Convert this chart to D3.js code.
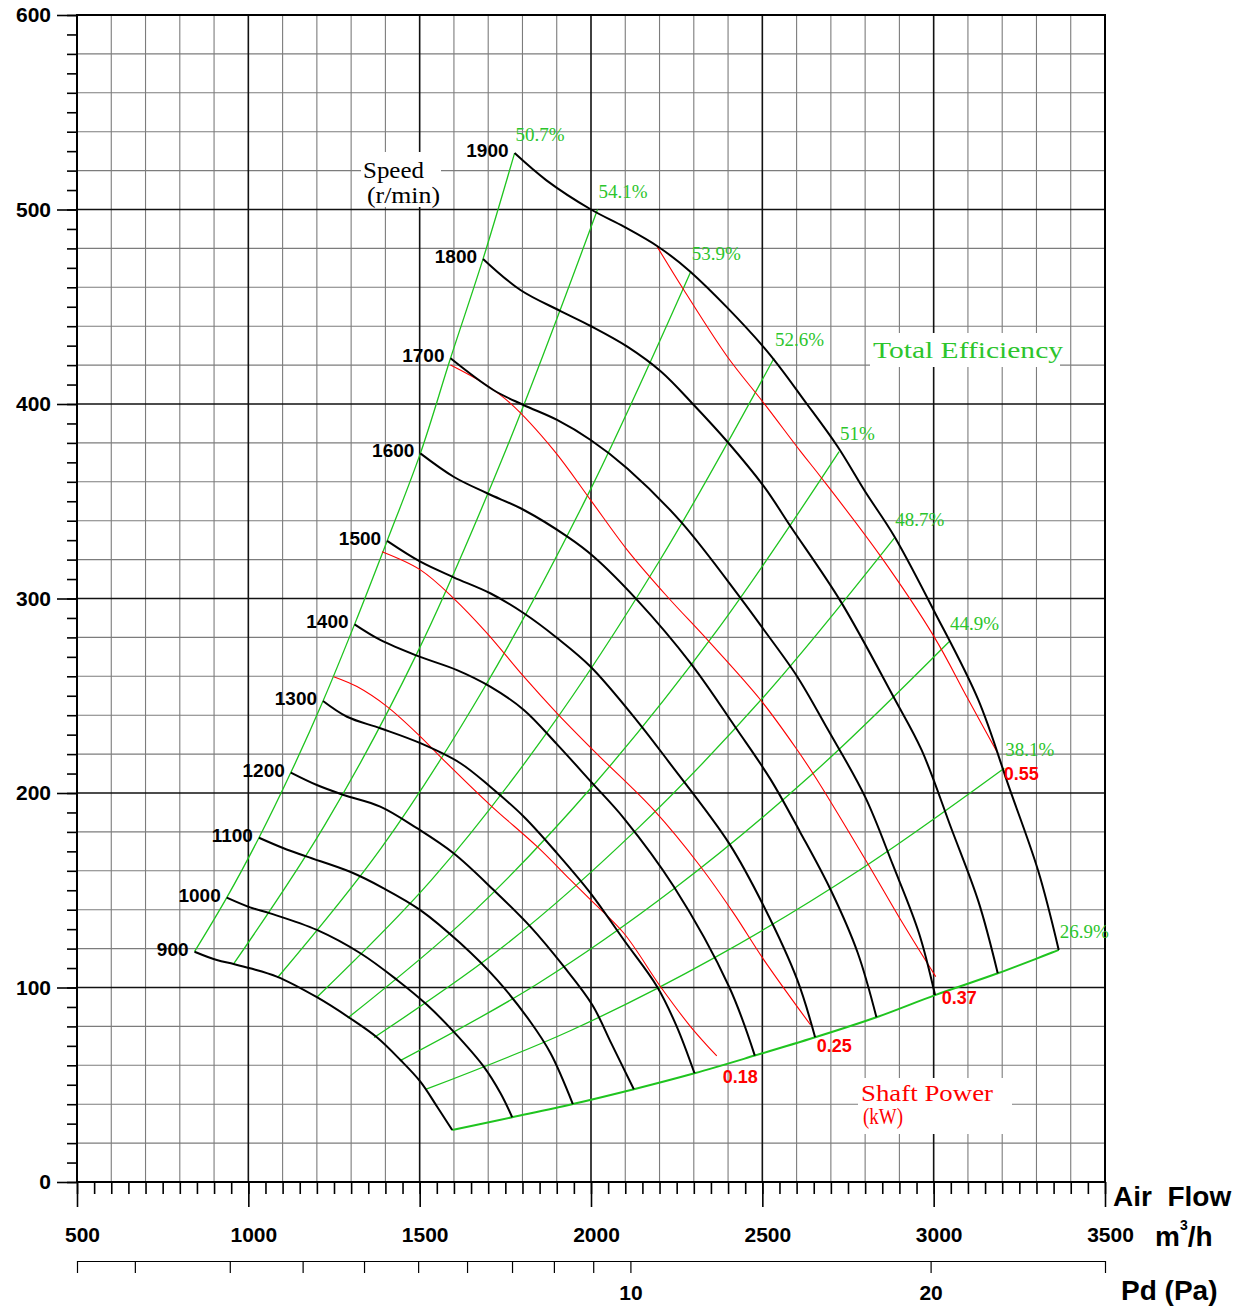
<!DOCTYPE html>
<html>
<head>
<meta charset="utf-8">
<script src="https://cdn.jsdelivr.net/npm/d3@7"></script>
<style>
  body { margin: 0; background: #fff; }
  svg { display: block; }
</style>
</head>
<body>
<div class="visHolder"></div>
<script>
const w = 1259, h = 1308;

// speed curves, [air flow m3/h, pressure Pa]
const speeds = [900, 1000, 1100, 1200, 1300, 1400, 1500, 1600, 1700, 1800, 1900];
const n900 = [[843,118.4],[908,114.1],[957,112.1],[1005,109.9],[1083,105.6],[1200,95],[1297,84.2],[1375,74.4],[1444,62.7],[1502,51.6],[1551,38.7],[1595,26.7]];
const n1000 = [[937,146.2],[1005,141.2],[1064,138.1],[1200,129.6],[1327,117.6],[1434,103.9],[1522,91],[1599,77.3],[1687,59.3],[1736,45.6],[1770,33.3]];
const n1100 = [[1031,177],[1103,171.6],[1171,167.3],[1297,159.5],[1395,151],[1502,139.8],[1619,122.7],[1726,103.9],[1823,82.4],[1882,66.2],[1947,40.1]];
const n1200 = [[1124,210.5],[1200,204.1],[1278,199],[1385,193],[1492,181.9],[1599,169],[1716,150.1],[1823,131.3],[1921,110.7],[2004,91],[2060,71],[2125,47.7]];
const n1300 = [[1218,247.3],[1288,239.2],[1385,233.3],[1502,225.6],[1619,215.3],[1706,203.2],[1804,187.8],[1901,169],[1999,148.4],[2096,124.4],[2193,100.4],[2250,80],[2302,55.9]];
const n1400 = [[1310,286.7],[1385,278.7],[1492,270.6],[1609,263.2],[1706,254.7],[1804,242.7],[1901,225],[1999,206],[2096,187],[2242,151.8],[2403,100.4],[2478,65]];
const n1500 = [[1405,329.6],[1502,318.9],[1599,310.9],[1706,302.7],[1804,292.4],[1901,279.7],[1999,264.9],[2135,237],[2227,216],[2403,174.1],[2505,141.5],[2602,103.9],[2654,74.4]];
const n1600 = [[1502,374.6],[1599,362.6],[1697,354.1],[1804,345.5],[1931,331.8],[2008,321.5],[2135,299.2],[2291,266.7],[2427,232.4],[2524,207],[2610,180],[2700,150],[2778,118],[2833,84.7]];
const n1700 = [[1590,423.5],[1715,407.2],[1803,399.5],[1901,391.8],[1999,381.5],[2106,366.9],[2262,339.5],[2437,300.1],[2505,283.8],[2602,259.8],[2690,233],[2800,198],[2881,163],[2957,128],[3004,96.1]];
const n1800 = [[1685,474.6],[1794,458.6],[1911,447.8],[1999,440.1],[2106,429.5],[2205,416.6],[2300,399.5],[2398,380.6],[2505,357.5],[2583,336.9],[2729,298.4],[2885,248.7],[2965,222],[3051,182],[3131,144],[3187,107.3]];
const n1900 = [[1777,529],[1870,515],[2000,500],[2096,491.2],[2195,481],[2290,468],[2505,429],[2630,400],[2720,378],[2800,355],[2885,332],[3000,294],[3130,248],[3220,203],[3305,160],[3365,119.3]];
const speedCurves = [n900, n1000, n1100, n1200, n1300, n1400, n1500, n1600, n1700, n1800, n1900];

// total efficiency lines
const effLabels = ['50.7%', '54.1%', '53.9%', '52.6%', '51%', '48.7%', '44.9%', '38.1%', '26.9%'];
const eff507 = [[843,118.4],[937,146.2],[1031,177],[1124,210.5],[1218,247.3],[1310,286.7],[1405,329.6],[1502,374.6],[1590,423.5],[1685,474.6],[1777,529]];
const eff541 = [[957,112.1],[1222,183.2],[1490,271],[1753,377],[2019,500]];
const eff539 = [[1085,105],[1387,171.5],[1688,254],[1990,353],[2291,468]];
const eff526 = [[1200,95],[1534,155.2],[1867,230],[2200,319.4],[2534,423.5]];
const eff51 = [[1290,84.3],[1649,137.6],[2007,204],[2366,283.2],[2724,375.5]];
const eff487 = [[1367,74.3],[1746,121.3],[2126,180],[2505,249.6],[2885,331]];
const eff449 = [[1442,62.3],[1843,101.8],[2244,151],[2644,209.5],[3045,277.8]];
const eff381 = [[1519,47.7],[1941,77.9],[2362,115.5],[2784,160.4],[3206,212.7]];
const eff269 = [[1595,26.7],[1770,33.3],[1947,40.1],[2125,47.7],[2302,55.9],[2478,65],[2654,74.4],[2833,84.7],[3004,96.1],[3187,107.3],[3365,119.3]];
const effLines = [eff507, eff541, eff539, eff526, eff51, eff487, eff449, eff381, eff269];

// shaft power lines (kW)
const powerLabels = ['0.18', '0.25', '0.37', '0.55'];
const p018 = [[1249,259.8],[1317,254.7],[1405,244.4],[1502,229],[1560,218.7],[1706,193.8],[1843,172.4],[1940,155.3],[1999,145],[2096,127.9],[2203,100.4],[2291,79.8],[2367,64.8]];
const p025 = [[1390,324],[1502,314.7],[1599,300.1],[1697,282.1],[1804,259.8],[1901,241],[2018,220],[2183,191.3],[2320,162.1],[2417,138],[2505,114.1],[2641,80.7]];
const p037 = [[1590,420],[1687,410.6],[1765,400.3],[1891,376.3],[1999,350.6],[2106,324.9],[2223,300.9],[2340,278.7],[2495,247.8],[2602,222.1],[2660,206.7],[2807,163.9],[2904,134.7],[3006,105.6]];
const p055 = [[2193,480.9],[2271,458.6],[2398,424.3],[2505,400.3],[2612,375.5],[2670,362.6],[2846,321.5],[3001,280.4],[3099,248.7],[3187,220.4]];
const powerLines = [p018, p025, p037, p055];

// axis ticks
const flowLabels = [500, 1000, 1500, 2000, 2500, 3000, 3500];
const pressureLabels = [0, 100, 200, 300, 400, 500, 600];
const pdTicks = [1, 2, 3, 4, 5, 6, 7, 8, 9, 10, 20];
const pdLabels = [10, 20];
const pdRefFlow = 2115; // flow where Pd reads 10 Pa

const green = '#1fc41f';
const greenText = '#2cc52c';
const red = '#ff0000';
const numFont = '"Liberation Sans", Arial, sans-serif';
const serifFont = '"Liberation Serif", "Times New Roman", serif';

const svg = d3.select('.visHolder')
  .append('svg')
  .attr('width', w)
  .attr('height', h)
  .attr('viewBox', `0 0 ${w} ${h}`);

const xScale = d3.scaleLinear().domain([500, 3500]).range([77, 1105]);
const yScale = d3.scaleLinear().domain([0, 600]).range([1182, 15]);

// grid
const grid = svg.append('g');
grid.selectAll('.vminor')
  .data(d3.range(600, 3500, 100).filter(d => d % 500 !== 0))
  .join('line')
  .attr('x1', d => xScale(d)).attr('x2', d => xScale(d))
  .attr('y1', yScale(0)).attr('y2', yScale(600))
  .attr('stroke', '#7c7c7c').attr('stroke-width', 1.1);
grid.selectAll('.hminor')
  .data(d3.range(20, 600, 20).filter(d => d % 100 !== 0))
  .join('line')
  .attr('y1', d => yScale(d)).attr('y2', d => yScale(d))
  .attr('x1', xScale(500)).attr('x2', xScale(3500))
  .attr('stroke', '#7c7c7c').attr('stroke-width', 1.1);
grid.selectAll('.vmajor')
  .data(flowLabels.slice(1, -1))
  .join('line')
  .attr('x1', d => xScale(d)).attr('x2', d => xScale(d))
  .attr('y1', yScale(0)).attr('y2', yScale(600))
  .attr('stroke', '#111').attr('stroke-width', 1.6);
grid.selectAll('.hmajor')
  .data(pressureLabels.slice(1, -1))
  .join('line')
  .attr('y1', d => yScale(d)).attr('y2', d => yScale(d))
  .attr('x1', xScale(500)).attr('x2', xScale(3500))
  .attr('stroke', '#111').attr('stroke-width', 1.6);

svg.append('rect')
  .attr('x', xScale(500)).attr('y', yScale(600))
  .attr('width', xScale(3500) - xScale(500))
  .attr('height', yScale(0) - yScale(600))
  .attr('fill', 'none').attr('stroke', '#000').attr('stroke-width', 2);

// axes
const styleAxis = g => {
  g.select('.domain').remove();
  g.selectAll('line').attr('stroke', '#000').attr('stroke-width', 1.6);
  g.selectAll('text')
    .attr('font-family', numFont).attr('font-weight', 'bold')
    .attr('font-size', 21).attr('fill', '#000');
};

svg.append('g')
  .attr('transform', `translate(${xScale(500)},0)`)
  .call(d3.axisLeft(yScale).tickValues(d3.range(0, 601, 10)).tickSize(10).tickFormat(''))
  .call(styleAxis);
svg.append('g')
  .attr('transform', `translate(${xScale(500)},0)`)
  .call(d3.axisLeft(yScale).tickValues(pressureLabels).tickSize(20).tickPadding(6).tickFormat(d3.format('d')))
  .call(styleAxis);

svg.append('g')
  .attr('transform', `translate(0,${yScale(0)})`)
  .call(d3.axisBottom(xScale).tickValues(d3.range(500, 3501, 50)).tickSize(12).tickFormat(''))
  .call(styleAxis);
svg.append('g')
  .attr('transform', `translate(0,${yScale(0)})`)
  .call(d3.axisBottom(xScale).tickValues(flowLabels).tickSize(25).tickPadding(20).tickFormat(d3.format('d')))
  .call(styleAxis)
  .call(g => g.selectAll('text').attr('dx', 5));

// dynamic pressure axis, Pd grows with the square of the flow
const pdMin = 10 * (500 / pdRefFlow) ** 2;
const pdMax = 10 * (3500 / pdRefFlow) ** 2;
const pdScale = d3.scaleSqrt().domain([pdMin, pdMax]).range([xScale(500), xScale(3500)]);
svg.append('g')
  .attr('transform', 'translate(0,1261)')
  .call(d3.axisBottom(pdScale).tickValues(pdTicks).tickSize(12).tickSizeOuter(12).tickPadding(12)
    .tickFormat(d => pdLabels.includes(d) ? d : ''))
  .call(g => {
    g.selectAll('line').attr('stroke', '#000').attr('stroke-width', 1.2);
    g.select('.domain').attr('stroke', '#000').attr('stroke-width', 1.2);
    g.selectAll('text').attr('font-family', numFont).attr('font-weight', 'bold')
      .attr('font-size', 21).attr('fill', '#000');
  });

const axisTitle = (x, y, txt) => svg.append('text')
  .attr('x', x).attr('y', y)
  .attr('font-family', numFont).attr('font-weight', 'bold')
  .attr('font-size', 28).attr('fill', '#000')
  .style('white-space', 'pre')
  .text(txt);
axisTitle(1113, 1206, 'Air  Flow');
const unit = axisTitle(1155, 1246, 'm');
unit.append('tspan').attr('font-size', 14).attr('dy', -16).text('3');
unit.append('tspan').attr('dy', 16).text('/h');
axisTitle(1121, 1300, 'Pd (Pa)');

// label boxes
const labelBox = (x, y, bw, bh) => svg.append('rect')
  .attr('x', x).attr('y', y).attr('width', bw).attr('height', bh).attr('fill', '#fff');
labelBox(361, 152, 80, 55);
labelBox(870, 333, 190, 34);
labelBox(858, 1078, 154, 56);

const serifText = (x, y, txt, len, color) => svg.append('text')
  .attr('x', x).attr('y', y)
  .attr('font-family', serifFont).attr('font-size', 23)
  .attr('fill', color)
  .attr('textLength', len).attr('lengthAdjust', 'spacingAndGlyphs')
  .text(txt);
serifText(363, 178, 'Speed', 61, '#000');
serifText(367, 203, '(r/min)', 73, '#000');
serifText(873, 358, 'Total Efficiency', 190, greenText);
serifText(861, 1101, 'Shaft Power', 132, red);
serifText(863, 1124, '(kW)', 40, red);

const line = d3.line()
  .x(d => xScale(d[0]))
  .y(d => yScale(d[1]))
  .curve(d3.curveCatmullRom.alpha(0.5));

// efficiency lines
svg.append('g').selectAll('path')
  .data(effLines)
  .join('path')
  .attr('d', line)
  .attr('fill', 'none')
  .attr('stroke', green)
  .attr('stroke-width', (d, i) => i === effLines.length - 1 ? 2 : 1.3);

// power lines
svg.append('g').selectAll('path')
  .data(powerLines)
  .join('path')
  .attr('d', line)
  .attr('fill', 'none')
  .attr('stroke', red)
  .attr('stroke-width', 1.1);

// speed curves
svg.append('g').selectAll('path')
  .data(speedCurves)
  .join('path')
  .attr('d', line)
  .attr('fill', 'none')
  .attr('stroke', '#000')
  .attr('stroke-width', 2);

// speed labels at the start of each curve
svg.append('g').selectAll('text')
  .data(speedCurves)
  .join('text')
  .attr('x', d => xScale(d[0][0]) - 6)
  .attr('y', d => yScale(d[0][1]) + 4)
  .attr('text-anchor', 'end')
  .attr('font-family', numFont).attr('font-weight', 'bold')
  .attr('font-size', 19)
  .text((d, i) => speeds[i]);

// efficiency labels at the top end
svg.append('g').selectAll('text')
  .data(effLines)
  .join('text')
  .attr('x', d => xScale(d[d.length - 1][0]) + 1)
  .attr('y', d => yScale(d[d.length - 1][1]) - 12)
  .attr('font-family', serifFont)
  .attr('font-size', 19)
  .attr('fill', greenText)
  .text((d, i) => effLabels[i]);

// power labels at the lower end
svg.append('g').selectAll('text')
  .data(powerLines)
  .join('text')
  .attr('x', d => xScale(d[d.length - 1][0]) + 6)
  .attr('y', d => yScale(d[d.length - 1][1]) + 27)
  .attr('font-family', numFont).attr('font-weight', 'bold')
  .attr('font-size', 18)
  .attr('fill', red)
  .text((d, i) => powerLabels[i]);
</script>
</body>
</html>
